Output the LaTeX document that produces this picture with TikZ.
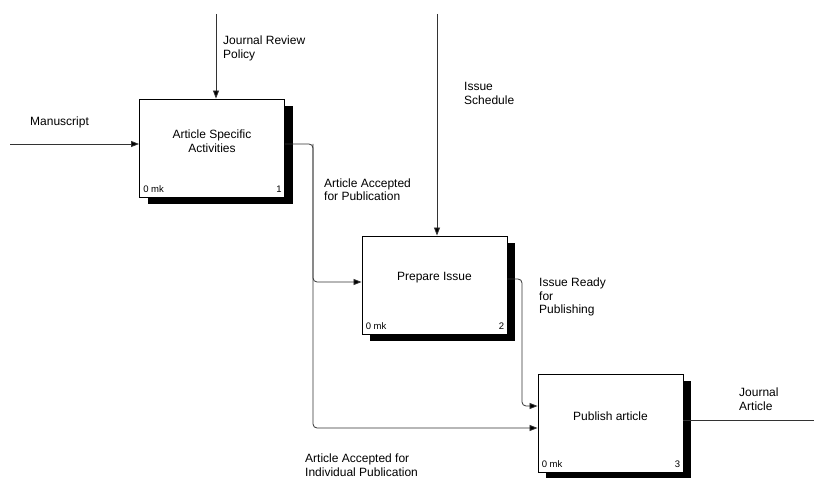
\documentclass[tikz,border=0pt]{standalone}
\usepackage{fontspec}
\setmainfont{Liberation Sans}
\usetikzlibrary{arrows.meta,calc,shadows}

\begin{document}
\begin{tikzpicture}[x=1pt,y=-1pt,
  actbox/.style={draw=black, line width=0.9pt, fill=white,
    minimum width=145pt, minimum height=98pt, inner sep=0pt,
    drop shadow={shadow xshift=8pt, shadow yshift=-7pt, fill=black, opacity=1}},
  boxtext/.style={font=\fontsize{12}{14}\selectfont, align=center, inner sep=0pt},
  corner/.style={font=\fontsize{9.5}{11}\selectfont, inner sep=0pt},
  lbl/.style={font=\fontsize{12}{13.5}\selectfont, align=left, anchor=west, inner sep=0pt},
  conn/.style={draw=black!80, line width=0.8pt, rounded corners=4pt},
  arr/.style={-{Triangle[length=8pt,width=6pt,fill=black]}}
]
\useasboundingbox (0,0) rectangle (814,478);

% activity boxes
\node[actbox] (a1) at (212,148) {};
\node[actbox] (a2) at (434.5,285) {};
\node[actbox] (a3) at (610.5,423) {};

\node[boxtext] (t1) at ($(a1)+(0,-7)$) {Article Specific\\Activities};
\node[boxtext] (t2) at ($(a2)+(0,-7)$) {Prepare Issue};
\node[boxtext] (t3) at ($(a3)+(0,-7)$) {Publish article};

\node[corner, anchor=south west] (m1) at ($(a1.south west)+(4,-5)$) {0 mk};
\node[corner, anchor=south east] (n1) at ($(a1.south east)+(-3,-5)$) {1};
\node[corner, anchor=south west] (m2) at ($(a2.south west)+(4,-5)$) {0 mk};
\node[corner, anchor=south east] (n2) at ($(a2.south east)+(-3,-5)$) {2};
\node[corner, anchor=south west] (m3) at ($(a3.south west)+(4,-5)$) {0 mk};
\node[corner, anchor=south east] (n3) at ($(a3.south east)+(-3,-5)$) {3};

% inputs and controls
\coordinate (src1) at (10,144);
\draw[conn,arr] (src1) -- (src1 -| a1.west);
\coordinate (src2) at (216,14);
\draw[conn,arr] (src2) -- (src2 |- a1.north);
\coordinate (src3) at (437,14);
\draw[conn,arr] (src3) -- (src3 |- a2.north);

% outputs of activity 1
\coordinate (j1) at (313,144);
\coordinate (in2) at ($(a2.west)+(0,-3)$);
\coordinate (in3b) at ($(a3.west)+(0,5)$);
\draw[conn,arr] (j1 -| a1.east) -- (j1) |- (in2);
\draw[conn,arr] (j1) |- (in3b);

% output of activity 2
\coordinate (j2) at (522,279);
\coordinate (in3a) at ($(a3.west)+(0,-17)$);
\draw[conn,arr] (j2 -| a2.east) -- (j2) |- (in3a);

% output of activity 3
\coordinate (snk) at (814,420);
\draw[conn] (snk -| a3.east) -- (snk);

% arrow labels
\node[lbl] (l1) at (30,122) {Manuscript};
\node[lbl] (l2) at (223,48.5) {Journal Review\\Policy};
\node[lbl] (l3) at (464,93.5) {Issue\\Schedule};
\node[lbl] (l4) at (324,189.5) {Article Accepted\\for Publication};
\node[lbl] (l5) at (539,297) {Issue Ready\\for\\Publishing};
\node[lbl] (l6) at (739,399) {Journal\\Article};
\node[lbl] (l7) at (305,465) {Article Accepted for\\Individual Publication};
\end{tikzpicture}
\end{document}
